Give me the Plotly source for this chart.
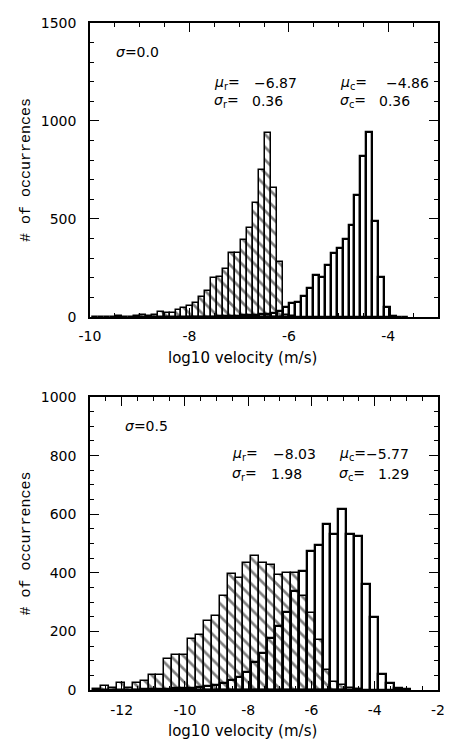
import plotly.graph_objects as go

# ---------------- data ----------------
# top panel (sigma = 0.0), bin width 0.12 in log10 velocity
TOP_BIN_W = 0.12
TOP_R_START = -9.96
TOP_R = [2, 0, 1, 0, 3, 1, 2, 4,
         10, 5, 10, 25, 22, 22, 35, 44, 55, 72, 102, 134, 198, 206, 243, 324,
         324, 391, 455, 579, 752, 940, 660, 279, 12, 3]
TOP_C_START = -8.04
TOP_C = [1, 1, 1, 2, 2, 3, 3, 5, 6, 8, 10, 12, 14, 16, 22, 30,
         50, 72, 77, 109, 148, 215, 203, 265, 327, 352, 399, 470, 623, 819,
         945, 488, 206, 50, 5, 2, 1]

# bottom panel (sigma = 0.5), bin width 0.25
BOT_BIN_W = 0.25
BOT_R_START = -12.9
BOT_R = [3, 15, 5, 25, 8, 25, 32, 51, 51, 104, 121, 118, 175, 186, 236, 251,
         321, 396, 383, 434, 456, 434, 425, 392, 399, 399, 321, 262, 172, 68,
         28, 17, 8, 3]
BOT_C_START = -11.65
BOT_C = [1, 2, 2, 3, 4, 5, 6, 8, 10, 12, 16,
         23, 34, 45, 62, 96, 125, 176, 220, 265, 338, 405, 473, 496, 565, 533,
         619, 533, 527, 362, 248, 54, 25, 7, 2]

TOP_XTICKS = [-10, -8, -6, -4]
TOP_XTEXT = ["-10", "-8", "-6", "-4"]
TOP_YTICKS = [0, 500, 1000, 1500]
BOT_XTICKS = [-12, -10, -8, -6, -4, -2]
BOT_XTEXT = ["-12", "-10", "-8", "-6", "-4", "-2"]
BOT_YTICKS = [0, 200, 400, 600, 800, 1000]

TOP_STATS = {"sig": "0.0", "mu_r": "\u22126.87", "sig_r": "0.36",
             "mu_c": "\u22124.86", "sig_c": "0.36"}
BOT_STATS = {"sig": "0.5", "mu_r": "\u22128.03", "sig_r": "1.98",
             "mu_c": "\u22125.77", "sig_c": "1.29"}


def centers(start, width, n):
    return [start + width * (i + 0.5) for i in range(n)]


fig = go.Figure()

hatch = dict(shape="\\", fgcolor="black", bgcolor="white", size=9, solidity=0.3)


def add_pair(r_start, r_vals, c_start, c_vals, w, xa, ya):
    fig.add_trace(go.Bar(
        x=centers(r_start, w, len(r_vals)), y=r_vals, width=w,
        marker=dict(color="white", pattern=hatch,
                    line=dict(color="black", width=1.5)),
        xaxis=xa, yaxis=ya, showlegend=False))
    fig.add_trace(go.Bar(
        x=centers(c_start, w, len(c_vals)), y=c_vals, width=w,
        marker=dict(color="rgba(0,0,0,0)",
                    line=dict(color="black", width=2.3)),
        xaxis=xa, yaxis=ya, showlegend=False))


add_pair(TOP_R_START, TOP_R, TOP_C_START, TOP_C, TOP_BIN_W, "x", "y")
add_pair(BOT_R_START, BOT_R, BOT_C_START, BOT_C, BOT_BIN_W, "x2", "y2")

TICKFONT = dict(family="DejaVu Sans", size=14, color="black")


def axis_common():
    return dict(ticks="inside", ticklen=9, tickwidth=1, tickcolor="black",
                showline=True, linewidth=1.5, linecolor="black",
                mirror="ticks", showgrid=False, zeroline=False,
                tickfont=TICKFONT, fixedrange=True)


xa1 = axis_common()
xa1.update(domain=[0, 1], anchor="y", range=[-10, -3], tickmode="array",
           tickvals=TOP_XTICKS, ticktext=TOP_XTEXT, ticklabelstandoff=6,
           minor=dict(tick0=-10, dtick=0.5, ticklen=4, ticks="inside",
                      tickcolor="black"))
ya1 = axis_common()
ya1.update(domain=[0.5593, 1], anchor="x", range=[0, 1500], tickmode="array",
           tickvals=TOP_YTICKS, ticklabelstandoff=9,
           minor=dict(tick0=0, dtick=100, ticklen=4, ticks="inside",
                      tickcolor="black"))
xa2 = axis_common()
xa2.update(domain=[0, 1], anchor="y2", range=[-13, -2], tickmode="array",
           tickvals=BOT_XTICKS, ticktext=BOT_XTEXT, ticklabelstandoff=6,
           minor=dict(tick0=-13, dtick=0.5, ticklen=4, ticks="inside",
                      tickcolor="black"))
ya2 = axis_common()
ya2.update(domain=[0, 0.4392], anchor="x2", range=[0, 1000], tickmode="array",
           tickvals=BOT_YTICKS, ticklabelstandoff=9,
           minor=dict(tick0=0, dtick=50, ticklen=4, ticks="inside",
                      tickcolor="black"))

# page body has an 8px margin: figure is 444x738 placed at (8, 8)
fig.update_layout(
    width=444, height=738,
    margin=dict(l=82, r=7, t=8, b=56),
    paper_bgcolor="white", plot_bgcolor="white",
    barmode="overlay", bargap=0,
    xaxis=xa1, yaxis=ya1, xaxis2=xa2, yaxis2=ya2,
)

ANN_FONT = dict(family="DejaVu Sans", size=14, color="black")
ann = []


def txt(text, x, y, xref, yref, anchor="left"):
    ann.append(dict(text=text, x=x, y=y, xref=xref, yref=yref,
                    xanchor=anchor, yanchor="middle", showarrow=False,
                    font=ANN_FONT))


def stats(s, xref, yref, pos):
    (sx, sy), (lx1, vx1, vx2), (lx2, vx3, vx4), (y1, y2) = pos
    txt("<i>\u03c3</i>=" + s["sig"], sx, sy, xref, yref)
    txt("<i>\u03bc</i><sub>r</sub>=", lx1, y1, xref, yref)
    txt(s["mu_r"], vx1, y1, xref, yref, "right")
    txt("<i>\u03c3</i><sub>r</sub>=", lx1, y2, xref, yref)
    txt(s["sig_r"], vx2, y2, xref, yref, "right")
    txt("<i>\u03bc</i><sub>c</sub>=", lx2, y1, xref, yref)
    txt(s["mu_c"], vx3, y1, xref, yref, "right")
    txt("<i>\u03c3</i><sub>c</sub>=", lx2, y2, xref, yref)
    txt(s["sig_c"], vx4, y2, xref, yref, "right")


stats(TOP_STATS, "x", "y",
      ((-9.51, 1353), (-7.54, -5.79, -6.08), (-5.01, -3.15, -3.52), (1192, 1101)))
stats(BOT_STATS, "x2", "y2",
      ((-11.95, 902), (-8.56, -5.79, -6.25), (-5.20, -2.86, -2.86), (804, 736)))

YT_FONT = dict(family="Liberation Mono", size=15, color="black")
XT_FONT = dict(family="DejaVu Sans", size=15, color="black")
for (y0, y1) in ((0.5593, 1.0), (0.0, 0.4392)):
    ann.append(dict(text="# of occurrences", x=0, y=(y0 + y1) / 2, xref="paper",
                    yref="paper", xshift=-63, textangle=-90, showarrow=False,
                    xanchor="center", yanchor="middle", font=YT_FONT))
    ann.append(dict(text="log10 velocity (m/s)", x=0.437, y=y0, xref="paper",
                    yref="paper", yshift=-41, showarrow=False,
                    xanchor="center", yanchor="middle", font=XT_FONT))

fig.update_layout(annotations=ann)
fig.write_html("out.html")
